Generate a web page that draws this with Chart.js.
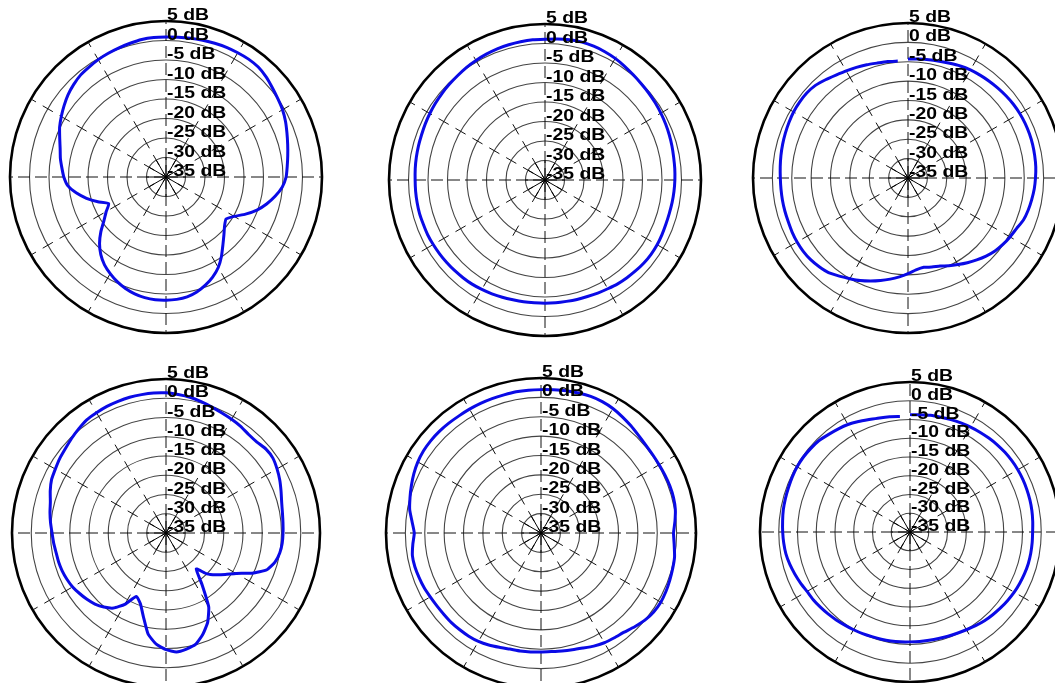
<!DOCTYPE html>
<html>
<head>
<meta charset="utf-8">
<title>Radiation patterns</title>
<script src="https://cdn.jsdelivr.net/npm/chart.js@4.4.1/dist/chart.umd.min.js"></script>
<style>
html, body { margin: 0; padding: 0; overflow: hidden; background: #fff; }
#page { position: relative; width: 1055px; height: 683px; overflow: hidden; background: #fff; }
#page canvas { position: absolute; }
</style>
</head>
<body>
<div id="page">
  <canvas id="p1"></canvas>
  <canvas id="p2"></canvas>
  <canvas id="p3"></canvas>
  <canvas id="p4"></canvas>
  <canvas id="p5"></canvas>
  <canvas id="p6"></canvas>
</div>
<script>
// azimuth in degrees, clockwise from top
var angles = [0, 5, 10, 15, 20, 25, 30, 35, 40, 45, 50, 55,
    60, 65, 70, 75, 80, 85, 90, 95, 100, 105, 110, 115,
    120, 125, 130, 135, 140, 145, 150, 155, 160, 165, 170, 175,
    180, 185, 190, 195, 200, 205, 210, 215, 220, 225, 230, 235,
    240, 245, 250, 255, 260, 265, 270, 275, 280, 285, 290, 295,
    300, 305, 310, 315, 320, 325, 330, 335, 340, 345, 350, 355];

// gain in dB
var gain1 = [0.9, 1.0, 1.15, 1.3, 1.5, 1.7, 1.8, 1.9, 1.8, 1.3, 0.6, 0.0,
    -0.5, -1.2, -2.0, -2.7, -3.3, -3.8, -4.2, -5.1, -6.6, -8.3, -10.2, -12.5,
    -14.8, -16.2, -15.4, -14.0, -12.3, -10.2, -8.2, -6.7, -5.5, -4.5, -3.8, -3.5,
    -3.4, -3.4, -3.6, -4.0, -4.6, -5.4, -6.4, -7.5, -9.0, -10.9, -13.2, -15.6,
    -17.3, -18.8, -16.4, -13.9, -11.6, -9.7, -8.8, -8.2, -7.5, -6.9, -6.0, -4.9,
    -4.0, -3.1, -2.2, -1.5, -0.9, -0.6, -0.25, 0.0, 0.25, 0.5, 0.8, 0.9];

var gain2 = [1.1, 1.3, 1.5, 1.6, 1.5, 1.3, 1.0, 0.6, 0.2, -0.1, -0.3, -0.5,
    -0.7, -0.9, -1.1, -1.3, -1.5, -1.6, -1.7, -1.8, -1.9, -2.0, -2.0, -1.9,
    -1.8, -1.8, -1.9, -2.1, -2.3, -2.5, -2.8, -3.0, -3.2, -3.3, -3.4, -3.4,
    -3.4, -3.4, -3.3, -3.2, -3.0, -2.8, -2.6, -2.4, -2.3, -2.2, -2.1, -2.0,
    -1.9, -1.8, -1.8, -1.7, -1.7, -1.7, -1.7, -1.6, -1.5, -1.4, -1.3, -1.1,
    -0.9, -0.7, -0.5, -0.3, -0.1, 0.2, 0.4, 0.6, 0.8, 0.9, 1.0, 1.1];

var gain3 = [-4.3, -4.2, -4.0, -3.8, -3.5, -3.1, -2.8, -2.6, -2.4, -2.2, -2.0, -1.8,
    -1.7, -1.65, -1.65, -1.7, -1.8, -1.9, -2.1, -2.3, -2.6, -2.9, -3.3, -4.1,
    -4.6, -5.1, -5.7, -6.5, -7.4, -8.3, -9.2, -10.0, -10.8, -11.2, -11.6, -11.2,
    -10.3, -9.4, -8.5, -7.6, -6.7, -5.8, -5.0, -4.1, -3.1, -2.6, -2.2, -2.0,
    -1.95, -2.0, -2.1, -2.1, -2.1, -2.1, -2.05, -1.9, -1.7, -1.5, -1.3, -1.1,
    -0.9, -0.85, -0.9, -1.2, -1.9, -2.6, -3.1, -3.5, -3.9, -4.3, -4.5, -4.7];

var gain4 = [1.4, 1.1, 0.8, 0.3, -0.2, -0.6, -0.9, -1.2, -1.6, -1.6, -1.1, -1.1,
    -1.7, -2.4, -3.2, -3.9, -4.3, -4.5, -4.6, -4.7, -5.0, -5.7, -7.1, -10.3,
    -14.0, -16.2, -18.1, -20.0, -22.8, -18.7, -12.8, -9.4, -7.0, -5.1, -4.4, -4.0,
    -4.7, -6.0, -8.3, -12.4, -15.5, -16.8, -13.6, -11.2, -9.9, -8.9, -8.2, -7.6,
    -7.0, -6.6, -6.3, -6.1, -6.0, -5.7, -5.4, -4.9, -4.4, -3.9, -3.0, -2.2,
    -1.8, -1.3, -0.9, -0.3, 0.3, 0.9, 1.1, 1.3, 1.4, 1.5, 1.5, 1.5];

var gain5 = [2.0, 2.1, 2.3, 2.4, 2.5, 2.4, 2.1, 1.6, 1.1, 0.6, 0.3, 0.2,
    0.2, 0.3, 0.4, 0.4, 0.2, -0.3, -0.8, -0.5, 0.0, 0.2, 0.4, 0.6,
    0.7, 0.5, 0.0, -0.8, -1.6, -2.0, -2.3, -2.8, -3.4, -3.8, -4.1, -4.3,
    -4.3, -4.2, -4.1, -4.0, -3.6, -3.1, -2.7, -2.5, -2.4, -2.3, -2.3, -2.2,
    -2.0, -1.7, -1.5, -1.3, -1.3, -1.8, -2.3, -1.6, -0.6, 0.0, 0.6, 1.2,
    1.7, 2.0, 2.1, 2.1, 2.0, 1.9, 1.9, 1.9, 1.9, 1.9, 2.0, 2.0];

var gain6 = [-3.7, -3.6, -3.4, -3.3, -3.1, -2.9, -2.7, -2.5, -2.3, -2.1, -1.95, -1.85,
    -1.8, -1.8, -1.85, -1.9, -2.0, -2.15, -2.3, -2.3, -2.3, -2.35, -2.5, -2.7,
    -2.9, -3.2, -3.5, -3.8, -4.1, -4.5, -4.9, -5.2, -5.4, -5.6, -5.7, -5.7,
    -5.7, -5.6, -5.5, -5.4, -5.3, -5.1, -4.9, -4.7, -4.4, -4.1, -3.8, -3.5,
    -3.3, -2.8, -2.3, -1.8, -1.4, -1.2, -1.05, -0.9, -0.7, -0.6, -0.5, -0.35,
    -0.25, -0.25, -0.4, -0.6, -1.1, -1.5, -1.9, -2.5, -3.1, -3.5, -3.8, -4.1];

// radial axis: -35 dB at centre, 5 dB at the rim
var dbMin = -35;
var dbMax = 5;
var dbStep = 5;

// gap: trace is not joined between 355 and 0 degrees
var panels = [
    { id: 'p1', data: gain1, cx: 166, cy: 177, r: 156, gap: false },
    { id: 'p2', data: gain2, cx: 545, cy: 180, r: 156, gap: false },
    { id: 'p3', data: gain3, cx: 908, cy: 178, r: 155, gap: true },
    { id: 'p4', data: gain4, cx: 166, cy: 533, r: 154, gap: false },
    { id: 'p5', data: gain5, cx: 541, cy: 533, r: 155, gap: false },
    { id: 'p6', data: gain6, cx: 910, cy: 532, r: 150, gap: true }
];

var PAD = 16;

// inner solid spokes + "x dB" labels up the vertical axis
var polarDecor = {
    id: 'polarDecor',
    afterDatasetsDraw: function (chart) {
        var s = chart.scales.r;
        var ctx = chart.ctx;
        var inner = s.getDistanceFromCenterForValue(dbMin + dbStep);
        ctx.save();
        ctx.strokeStyle = '#000';
        ctx.lineWidth = 1;
        chart.data.labels.forEach(function (a, i) {
            if (a % 30 !== 0) return;
            var p = s.getPointPosition(i, inner);
            ctx.beginPath();
            ctx.moveTo(s.xCenter, s.yCenter);
            ctx.lineTo(p.x, p.y);
            ctx.stroke();
        });
        ctx.fillStyle = '#000';
        ctx.font = 'bold 17px "Liberation Sans", Arial, sans-serif';
        ctx.textAlign = 'left';
        ctx.textBaseline = 'alphabetic';
        s.ticks.forEach(function (t) {
            var y = s.yCenter - s.getDistanceFromCenterForValue(t.value) - 1;
            ctx.save();
            ctx.translate(s.xCenter + 1, y);
            ctx.scale(1.14, 1);
            ctx.fillText(t.label, 0, 0);
            ctx.restore();
        });
        ctx.restore();
    }
};

// radar lines always close; leave the last step open instead
var openTrace = {
    id: 'openTrace',
    afterDatasetsUpdate: function (chart) {
        var line = chart.getDatasetMeta(0).dataset;
        line._loop = false;
        line._fullLoop = false;
        delete line._segments;
        delete line._path;
        line._pointsUpdated = false;
    }
};

function ringPx(c) {
    return c.scale.drawingArea / ((dbMax - dbMin) / dbStep);
}

panels.forEach(function (pn) {
    var el = document.getElementById(pn.id);
    var size = 2 * pn.r + 2 * PAD;
    el.width = size;
    el.height = size;
    el.style.left = (pn.cx - pn.r - PAD) + 'px';
    el.style.top = (pn.cy - pn.r - PAD) + 'px';

    new Chart(el, {
        type: 'radar',
        data: {
            labels: angles,
            datasets: [{
                data: pn.data,
                borderColor: '#0a0ae6',
                borderWidth: 3,
                borderJoinStyle: 'round',
                pointRadius: 0,
                fill: false,
                tension: 0.15
            }]
        },
        options: {
            responsive: false,
            animation: false,
            layout: { padding: PAD },
            plugins: {
                legend: { display: false },
                tooltip: { enabled: false }
            },
            scales: {
                r: {
                    min: dbMin,
                    max: dbMax,
                    ticks: {
                        stepSize: dbStep,
                        display: false,
                        callback: function (v) { return v + ' dB'; }
                    },
                    pointLabels: { display: false },
                    grid: {
                        circular: true,
                        color: function (c) { return c.index === 8 ? '#000' : '#444'; },
                        lineWidth: function (c) { return c.index === 8 ? 2.6 : 1.1; }
                    },
                    angleLines: {
                        color: '#111',
                        lineWidth: function (c) { return c.label % 30 === 0 ? 1 : 0; },
                        borderDash: function (c) {
                            if (c.label % 90 === 0) return [12, 5];
                            var d = ringPx(c);
                            return [d * 0.6, d * 0.4];
                        },
                        borderDashOffset: function (c) {
                            if (c.label % 90 === 0) return 0;
                            return ringPx(c) * 0.3;
                        }
                    }
                }
            }
        },
        plugins: pn.gap ? [polarDecor, openTrace] : [polarDecor]
    });
});
</script>
</body>
</html>
